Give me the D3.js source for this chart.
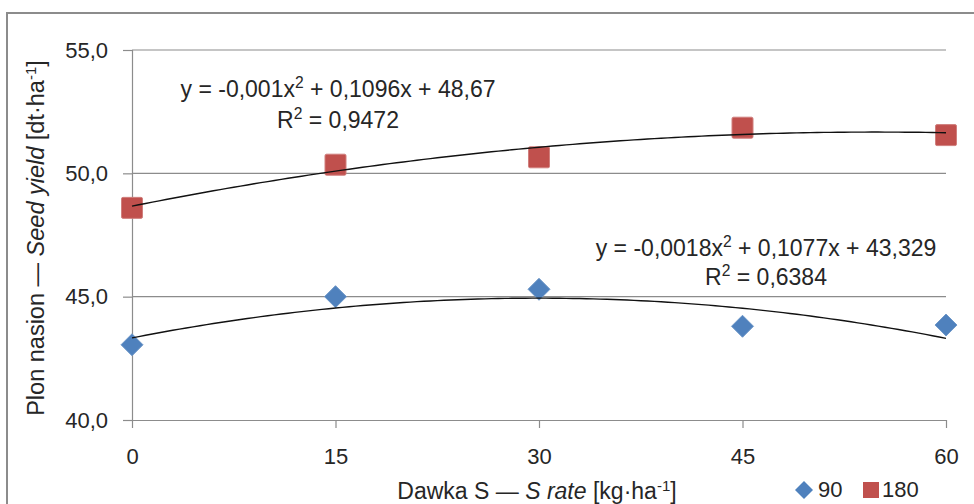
<!DOCTYPE html>
<html>
<head>
<meta charset="utf-8">
<script src="https://cdn.jsdelivr.net/npm/d3@7"></script>
<style>
  html, body { margin: 0; padding: 0; background: #fff; }
  svg { display: block; font-family: "Liberation Sans", Arial, sans-serif; }
</style>
</head>
<body>
<svg id="chart" width="974" height="504"></svg>
<script>
// ---- data ----
const doses = [0, 15, 30, 45, 60];
const series90 = [43.05, 45.0, 45.3, 43.8, 43.85];
const series180 = [48.6, 50.35, 50.65, 51.85, 51.55];
const seriesNames = ["90", "180"];
const seriesColors = ["#4F81BD", "#C0504D"];
const trend90 = [-0.0018, 0.1077, 43.329];   // a, b, c
const trend180 = [-0.001, 0.1096, 48.67];
// equation pieces: [before sup, sup, after sup]
const eq90 = [["y = -0,0018x", "2", " + 0,1077x + 43,329"], ["R", "2", " = 0,6384"]];
const eq180 = [["y = -0,001x", "2", " + 0,1096x + 48,67"], ["R", "2", " = 0,9472"]];
const yTicks = [40, 45, 50, 55];
const xTicks = [0, 15, 30, 45, 60];

const svg = d3.select("#chart");
const fmt = d => d3.format(".1f")(d).replace(".", ",");

// outer frame (cropped at right/bottom)
svg.append("path")
  .attr("d", "M7,520 L7,13 L990,13")
  .attr("fill", "none").attr("stroke", "#8c8c8c").attr("stroke-width", 2);

const x = d3.scaleLinear().domain([0, 60]).range([132, 946]);
const y = d3.scaleLinear().domain([40, 55]).range([420, 50]);

// gridlines
svg.append("g").selectAll("line").data(yTicks.filter(t => t > 40)).join("line")
  .attr("x1", x(0)).attr("x2", x(60))
  .attr("y1", d => y(d)).attr("y2", d => y(d))
  .attr("stroke", "#8c8c8c").attr("stroke-width", 1.2);

// y axis
const yAxis = svg.append("g").attr("transform", `translate(${x(0)},0)`)
  .call(d3.axisLeft(y).tickValues(yTicks).tickFormat(fmt).tickSize(9).tickPadding(15));
yAxis.select(".domain").attr("stroke", "#8c8c8c").attr("stroke-width", 1.2);
yAxis.selectAll(".tick line").attr("stroke", "#8c8c8c").attr("stroke-width", 1.2);
yAxis.selectAll("text").attr("font-size", 22).attr("fill", "#262626")
  .attr("font-family", "'Liberation Sans', Arial, sans-serif");

// x axis
const xAxis = svg.append("g").attr("transform", `translate(0,${y(40)})`)
  .call(d3.axisBottom(x).tickValues(xTicks).tickSize(8).tickPadding(20).tickSizeOuter(0));
xAxis.select(".domain").attr("stroke", "#8c8c8c").attr("stroke-width", 1.2);
xAxis.selectAll(".tick line").attr("stroke", "#8c8c8c").attr("stroke-width", 1.2);
xAxis.selectAll("text").attr("font-size", 22).attr("fill", "#262626")
  .attr("font-family", "'Liberation Sans', Arial, sans-serif");

// trend lines
function trendPts(c) {
  const pts = [];
  for (let i = 0; i <= 120; i++) {
    const xv = i * 0.5;
    pts.push([xv, c[0] * xv * xv + c[1] * xv + c[2]]);
  }
  return pts;
}
const line = d3.line().x(d => x(d[0])).y(d => y(d[1])).curve(d3.curveLinear);

// markers
const sq = 21, di = 22;
svg.append("g").selectAll("rect").data(doses).join("rect")
  .attr("x", (d) => x(d) - sq / 2)
  .attr("y", (d, i) => y(series180[i]) - sq / 2)
  .attr("width", sq).attr("height", sq).attr("rx", 1.5)
  .attr("fill", seriesColors[1]).attr("stroke", "#d07f7d").attr("stroke-width", 1);

const diamond = s => `M0,${-s/2} L${s/2},0 L0,${s/2} L${-s/2},0 Z`;
svg.append("g").selectAll("path").data(doses).join("path")
  .attr("transform", (d, i) => `translate(${x(d)},${y(series90[i])})`)
  .attr("d", diamond(di))
  .attr("fill", seriesColors[0]).attr("stroke", "#6f98c9").attr("stroke-width", 1)
  .attr("stroke-linejoin", "round");

[trend90, trend180].forEach(c => {
  svg.append("path").datum(trendPts(c)).attr("d", line)
    .attr("fill", "none").attr("stroke", "#111").attr("stroke-width", 1.4);
});

// equations
function supText(t, parts, fs) {
  t.append("tspan").text(parts[0]);
  t.append("tspan").attr("font-size", fs * 0.68).attr("dy", -fs * 0.38).text(parts[1]);
  t.append("tspan").attr("dy", fs * 0.38).text(parts[2]);
}
function eqLabel(lines, cx, y1, y2) {
  const fs = 23;
  const g = svg.append("g").attr("font-size", fs).attr("fill", "#262626").attr("text-anchor", "middle");
  supText(g.append("text").attr("x", cx).attr("y", y1), lines[0], fs);
  supText(g.append("text").attr("x", cx).attr("y", y2), lines[1], fs);
}
eqLabel(eq180, 338, 97, 128);
eqLabel(eq90, 766, 256, 285);

// y axis title
const yt = svg.append("text")
  .attr("transform", "translate(44,238) rotate(-90)")
  .attr("text-anchor", "middle").attr("font-size", 23.5).attr("fill", "#262626");
yt.append("tspan").text("Plon nasion — ");
yt.append("tspan").attr("font-style", "italic").text("Seed yield");
yt.append("tspan").text(" [dt·ha");
yt.append("tspan").attr("font-size", 15).attr("dy", -8).text("-1");
yt.append("tspan").attr("dy", 8).text("]");

// x axis title
const xt = svg.append("text")
  .attr("x", 537).attr("y", 499)
  .attr("text-anchor", "middle").attr("font-size", 23).attr("fill", "#262626");
xt.append("tspan").text("Dawka S — ");
xt.append("tspan").attr("font-style", "italic").text("S rate");
xt.append("tspan").text(" [kg·ha");
xt.append("tspan").attr("font-size", 15).attr("dy", -8).text("-1");
xt.append("tspan").attr("dy", 8).text("]");

// legend
const lg = svg.append("g");
lg.append("path").attr("transform", "translate(804,490)").attr("d", diamond(18))
  .attr("fill", seriesColors[0]);
lg.append("text").attr("x", 818).attr("y", 497).attr("font-size", 22).attr("fill", "#262626").text(seriesNames[0]);
lg.append("rect").attr("x", 863).attr("y", 482).attr("width", 16).attr("height", 16)
  .attr("fill", seriesColors[1]);
lg.append("text").attr("x", 882).attr("y", 497).attr("font-size", 22).attr("fill", "#262626").text(seriesNames[1]);
</script>
</body>
</html>
